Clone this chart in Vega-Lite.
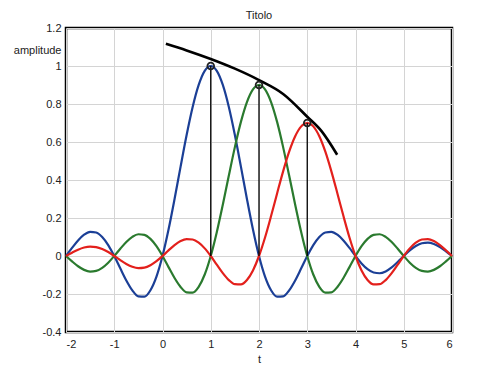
{
  "$schema": "https://vega.github.io/schema/vega-lite/v6.json",
  "autosize": {"type": "none"},
  "width": 386,
  "height": 304,
  "padding": {"left": 66, "top": 28, "right": 48, "bottom": 43},
  "background": "white",
  "config": {
    "font": "Liberation Sans",
    "view": {"stroke": "black", "strokeWidth": 2.5},
    "axis": {
      "grid": true, "gridColor": "#d4d4d4", "gridWidth": 1,
      "domain": false, "ticks": false,
      "labelFont": "Liberation Sans", "labelFontSize": 11, "labelColor": "#222",
      "titleFont": "Liberation Sans", "titleFontSize": 11, "titleFontWeight": "normal", "titleColor": "#222"
    }
  },
  "title": {"text": "Titolo", "fontSize": 11, "fontWeight": "normal", "font": "Liberation Sans", "color": "#222", "baseline": "alphabetic", "offset": 10, "frame": "group", "dy": 18},
  "datasets": {
    "curves": [
      {"t": -2, "blue": 0, "green": 0, "red": 0},
      {"t": -1.875, "blue": 0.0424, "green": -0.0283, "red": 0.0175},
      {"t": -1.75, "blue": 0.0818, "green": -0.054, "red": 0.0332},
      {"t": -1.625, "blue": 0.112, "green": -0.073, "red": 0.0445},
      {"t": -1.5, "blue": 0.1273, "green": -0.0819, "red": 0.0495},
      {"t": -1.375, "blue": 0.1238, "green": -0.0784, "red": 0.047},
      {"t": -1.25, "blue": 0.1, "green": -0.0623, "red": 0.0371},
      {"t": -1.125, "blue": 0.0573, "green": -0.0351, "red": 0.0207},
      {"t": -1, "blue": 0, "green": 0, "red": 0},
      {"t": -0.875, "blue": -0.065, "green": 0.0381, "red": -0.022},
      {"t": -0.75, "blue": -0.1286, "green": 0.0737, "red": -0.042},
      {"t": -0.625, "blue": -0.181, "green": 0.1008, "red": -0.0568},
      {"t": -0.5, "blue": -0.2122, "green": 0.1146, "red": -0.0637},
      {"t": -0.375, "blue": -0.2139, "green": 0.1114, "red": -0.061},
      {"t": -0.25, "blue": -0.1801, "green": 0.09, "red": -0.0485},
      {"t": -0.125, "blue": -0.1083, "green": 0.0516, "red": -0.0273},
      {"t": 0, "blue": 0, "green": 0, "red": 0},
      {"t": 0.125, "blue": 0.1392, "green": -0.0585, "red": 0.0297},
      {"t": 0.25, "blue": 0.3001, "green": -0.1158, "red": 0.0573},
      {"t": 0.375, "blue": 0.4705, "green": -0.1629, "red": 0.0784},
      {"t": 0.5, "blue": 0.6366, "green": -0.191, "red": 0.0891},
      {"t": 0.625, "blue": 0.7842, "green": -0.1925, "red": 0.0867},
      {"t": 0.75, "blue": 0.9003, "green": -0.1621, "red": 0.07},
      {"t": 0.875, "blue": 0.9745, "green": -0.0975, "red": 0.0401},
      {"t": 1, "blue": 1, "green": 0, "red": 0},
      {"t": 1.125, "blue": 0.9745, "green": 0.1253, "red": -0.0455},
      {"t": 1.25, "blue": 0.9003, "green": 0.2701, "red": -0.09},
      {"t": 1.375, "blue": 0.7842, "green": 0.4235, "red": -0.1267},
      {"t": 1.5, "blue": 0.6366, "green": 0.573, "red": -0.1485},
      {"t": 1.625, "blue": 0.4705, "green": 0.7058, "red": -0.1497},
      {"t": 1.75, "blue": 0.3001, "green": 0.8103, "red": -0.1261},
      {"t": 1.875, "blue": 0.1392, "green": 0.8771, "red": -0.0758},
      {"t": 2, "blue": 0, "green": 0.9, "red": 0},
      {"t": 2.125, "blue": -0.1083, "green": 0.8771, "red": 0.0974},
      {"t": 2.25, "blue": -0.1801, "green": 0.8103, "red": 0.2101},
      {"t": 2.375, "blue": -0.2139, "green": 0.7058, "red": 0.3294},
      {"t": 2.5, "blue": -0.2122, "green": 0.573, "red": 0.4456},
      {"t": 2.625, "blue": -0.181, "green": 0.4235, "red": 0.5489},
      {"t": 2.75, "blue": -0.1286, "green": 0.2701, "red": 0.6302},
      {"t": 2.875, "blue": -0.065, "green": 0.1253, "red": 0.6822},
      {"t": 3, "blue": 0, "green": 0, "red": 0.7},
      {"t": 3.125, "blue": 0.0573, "green": -0.0975, "red": 0.6822},
      {"t": 3.25, "blue": 0.1, "green": -0.1621, "red": 0.6302},
      {"t": 3.375, "blue": 0.1238, "green": -0.1925, "red": 0.5489},
      {"t": 3.5, "blue": 0.1273, "green": -0.191, "red": 0.4456},
      {"t": 3.625, "blue": 0.112, "green": -0.1629, "red": 0.3294},
      {"t": 3.75, "blue": 0.0818, "green": -0.1158, "red": 0.2101},
      {"t": 3.875, "blue": 0.0424, "green": -0.0585, "red": 0.0974},
      {"t": 4, "blue": 0, "green": 0, "red": 0},
      {"t": 4.125, "blue": -0.039, "green": 0.0516, "red": -0.0758},
      {"t": 4.25, "blue": -0.0693, "green": 0.09, "red": -0.1261},
      {"t": 4.375, "blue": -0.0871, "green": 0.1114, "red": -0.1497},
      {"t": 4.5, "blue": -0.0909, "green": 0.1146, "red": -0.1485},
      {"t": 4.625, "blue": -0.0811, "green": 0.1008, "red": -0.1267},
      {"t": 4.75, "blue": -0.06, "green": 0.0737, "red": -0.09},
      {"t": 4.875, "blue": -0.0314, "green": 0.0381, "red": -0.0455},
      {"t": 5, "blue": 0, "green": 0, "red": 0},
      {"t": 5.125, "blue": 0.0295, "green": -0.0351, "red": 0.0401},
      {"t": 5.25, "blue": 0.053, "green": -0.0623, "red": 0.07},
      {"t": 5.375, "blue": 0.0672, "green": -0.0784, "red": 0.0867},
      {"t": 5.5, "blue": 0.0707, "green": -0.0819, "red": 0.0891},
      {"t": 5.625, "blue": 0.0636, "green": -0.073, "red": 0.0784},
      {"t": 5.75, "blue": 0.0474, "green": -0.054, "red": 0.0573},
      {"t": 5.875, "blue": 0.025, "green": -0.0283, "red": 0.0297},
      {"t": 6, "blue": 0, "green": 0, "red": 0}
    ],
    "envelope": [
      {"t": 0.07, "y": 1.117},
      {"t": 0.5, "y": 1.082},
      {"t": 1, "y": 1.037},
      {"t": 1.5, "y": 0.986},
      {"t": 2, "y": 0.926},
      {"t": 2.5, "y": 0.853},
      {"t": 3, "y": 0.733},
      {"t": 3.3, "y": 0.656},
      {"t": 3.62, "y": 0.533}
    ],
    "peaks": [
      {"t": 1, "y": 1, "base": 0},
      {"t": 2, "y": 0.9, "base": 0},
      {"t": 3, "y": 0.7, "base": 0}
    ]
  },
  "layer": [
    {
      "data": {"name": "curves"},
      "transform": [{"fold": ["blue", "green", "red"], "as": ["series", "y"]}],
      "mark": {"type": "line", "strokeWidth": 2.2, "interpolate": "monotone"},
      "encoding": {
        "x": {"field": "t", "type": "quantitative", "scale": {"domain": [-2, 6], "nice": false}, "axis": {"values": [-2, -1, 0, 1, 2, 3, 4, 5, 6], "tickCount": 20, "title": "t", "labelPadding": 6, "titlePadding": 4, "labelOverlap": false, "labelExpr": "toString(datum.value)"}},
        "y": {"field": "y", "type": "quantitative", "scale": {"domain": [-0.4, 1.2], "nice": false}, "axis": {"values": [-0.4, -0.2, 0, 0.2, 0.4, 0.6, 0.8, 1, 1.2], "tickCount": 20, "title": "amplitude", "titleAngle": 0, "titleAlign": "right", "titleBaseline": "middle", "titleX": -5, "titleY": 22, "labelPadding": 5, "labelOverlap": false, "labelExpr": "toString(datum.value)"}},
        "color": {"field": "series", "type": "nominal", "scale": {"domain": ["blue", "green", "red"], "range": ["#1b3f96", "#2a7a2e", "#e3201c"]}, "legend": null},
        "order": {"field": "t"}
      }
    },
    {
      "mark": {"type": "rule", "color": "black", "strokeWidth": 2},
      "encoding": {"x": {"datum": 0}}
    },
    {
      "mark": {"type": "rule", "color": "black", "strokeWidth": 2},
      "encoding": {"y": {"datum": 0}}
    },
    {
      "data": {"name": "peaks"},
      "mark": {"type": "rule", "color": "black", "strokeWidth": 1.3},
      "encoding": {
        "x": {"field": "t", "type": "quantitative"},
        "y": {"field": "base", "type": "quantitative"},
        "y2": {"field": "y"}
      }
    },
    {
      "data": {"name": "envelope"},
      "mark": {"type": "line", "color": "black", "strokeWidth": 2.6, "interpolate": "monotone"},
      "encoding": {
        "x": {"field": "t", "type": "quantitative"},
        "y": {"field": "y", "type": "quantitative"}
      }
    },
    {
      "data": {"name": "peaks"},
      "mark": {"type": "point", "filled": false, "stroke": "#222", "strokeWidth": 1.8, "size": 45, "opacity": 1},
      "encoding": {
        "x": {"field": "t", "type": "quantitative"},
        "y": {"field": "y", "type": "quantitative"}
      }
    }
  ]
}
